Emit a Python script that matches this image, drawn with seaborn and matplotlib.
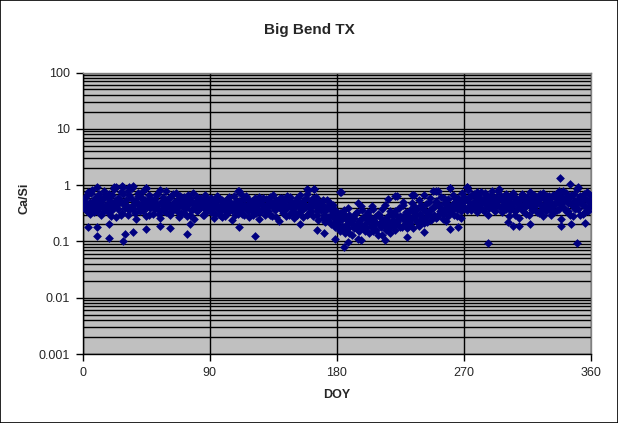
import numpy as np
import pandas as pd
import seaborn as sns
import matplotlib
matplotlib.use("Agg")
import matplotlib.pyplot as plt
from matplotlib.ticker import LogLocator, FixedLocator, FuncFormatter, NullFormatter

# Ca/Si ratio per day of year, two sampling years
doy = list(range(1, 361))
ca_si_a = [
    0.52, 0.38, 0.66, 0.45, 0.31, 0.72, 0.48, 0.41, 0.58, 0.35,
    0.62, 0.44, 0.29, 0.55, 0.78, 0.40, 0.47, 0.33, 0.69, 0.50,
    0.36, 0.85, 0.43, 0.27, 0.60, 0.49, 0.74, 0.32, 0.92, 0.46,
    0.55, 0.30, 0.68, 0.41, 0.88, 0.37, 0.52, 0.25, 0.63, 0.45,
    0.34, 0.58, 0.79, 0.42, 0.28, 0.51, 0.66, 0.39, 0.47, 0.31,
    0.57, 0.43, 0.70, 0.36, 0.26, 0.49, 0.61, 0.40, 0.33, 0.54,
    0.45, 0.29, 0.64, 0.38, 0.50, 0.72, 0.35, 0.27, 0.48, 0.59,
    0.41, 0.32, 0.56, 0.44, 0.68, 0.30, 0.52, 0.38, 0.25, 0.46,
    0.62, 0.36, 0.43, 0.55, 0.29, 0.40, 0.66, 0.34, 0.48, 0.57,
    0.33, 0.45, 0.26, 0.52, 0.39, 0.61, 0.30, 0.42, 0.55, 0.36,
    0.28, 0.47, 0.58, 0.34, 0.41, 0.24, 0.63, 0.38, 0.45, 0.31,
    0.52, 0.36, 0.68, 0.29, 0.43, 0.39, 0.56, 0.27, 0.48, 0.35,
    0.40, 0.60, 0.32, 0.46, 0.25, 0.53, 0.37, 0.44, 0.30, 0.57,
    0.34, 0.49, 0.62, 0.28, 0.41, 0.36, 0.54, 0.45, 0.23, 0.39,
    0.58, 0.32, 0.47, 0.38, 0.65, 0.29, 0.43, 0.51, 0.35, 0.26,
    0.44, 0.60, 0.33, 0.49, 0.37, 0.27, 0.55, 0.41, 0.70, 0.31,
    0.39, 0.52, 0.28, 0.46, 0.62, 0.34, 0.24, 0.43, 0.36, 0.55,
    0.30, 0.22, 0.41, 0.27, 0.48, 0.20, 0.35, 0.26, 0.18, 0.32,
    0.22, 0.15, 0.28, 0.19, 0.36, 0.14, 0.24, 0.17, 0.30, 0.21,
    0.13, 0.26, 0.18, 0.33, 0.16, 0.23, 0.42, 0.19, 0.27, 0.15,
    0.21, 0.29, 0.14, 0.25, 0.18, 0.37, 0.22, 0.16, 0.31, 0.20,
    0.26, 0.13, 0.23, 0.45, 0.19, 0.28, 0.17, 0.34, 0.21, 0.24,
    0.16, 0.30, 0.22, 0.39, 0.18, 0.27, 0.50, 0.20, 0.33, 0.24,
    0.19, 0.36, 0.26, 0.17, 0.42, 0.29, 0.22, 0.55, 0.31, 0.25,
    0.38, 0.21, 0.46, 0.28, 0.34, 0.60, 0.24, 0.40, 0.30, 0.52,
    0.27, 0.44, 0.35, 0.62, 0.31, 0.48, 0.23, 0.39, 0.56, 0.33,
    0.42, 0.68, 0.29, 0.50, 0.37, 0.58, 0.45, 0.26, 0.72, 0.40,
    0.55, 0.36, 0.82, 0.48, 0.63, 0.41, 0.70, 0.52, 0.33, 0.60,
    0.45, 0.74, 0.38, 0.57, 0.49, 0.66, 0.30, 0.53, 0.42, 0.78,
    0.47, 0.35, 0.61, 0.54, 0.85, 0.40, 0.58, 0.44, 0.68, 0.37,
    0.50, 0.28, 0.63, 0.43, 0.72, 0.34, 0.55, 0.47, 0.26, 0.60,
    0.39, 0.66, 0.48, 0.31, 0.57, 0.44, 0.75, 0.36, 0.52, 0.41,
    0.62, 0.33, 0.49, 0.70, 0.42, 0.28, 0.56, 0.45, 0.64, 0.38,
    0.51, 0.30, 0.68, 0.44, 0.58, 0.36, 0.77, 0.47, 0.25, 0.60,
    0.40, 0.73, 0.52, 0.34, 0.62, 0.46, 0.28, 0.69, 0.43, 0.55,
    0.37, 0.64, 0.48, 0.31, 0.58, 0.42, 0.75, 0.35, 0.52, 0.45,
]
ca_si_b = [
    0.44, 0.60, 0.35, 0.75, 0.50, 0.40, 0.82, 0.33, 0.55, 0.47,
    0.37, 0.70, 0.51, 0.42, 0.34, 0.64, 0.39, 0.58, 0.45, 0.28,
    0.66, 0.41, 0.53, 0.94, 0.38, 0.57, 0.30, 0.48, 0.70, 0.40,
    0.45, 0.80, 0.36, 0.59, 0.43, 0.95, 0.32, 0.50, 0.72, 0.39,
    0.62, 0.48, 0.35, 0.55, 0.88, 0.41, 0.30, 0.60, 0.52, 0.44,
    0.38, 0.66, 0.47, 0.31, 0.82, 0.53, 0.42, 0.35, 0.80, 0.45,
    0.58, 0.40, 0.33, 0.70, 0.46, 0.37, 0.55, 0.43, 0.65, 0.32,
    0.50, 0.62, 0.39, 0.28, 0.47, 0.58, 0.36, 0.71, 0.44, 0.53,
    0.34, 0.49, 0.60, 0.41, 0.52, 0.30, 0.45, 0.57, 0.38, 0.42,
    0.58, 0.37, 0.47, 0.31, 0.64, 0.43, 0.35, 0.52, 0.27, 0.46,
    0.40, 0.55, 0.33, 0.62, 0.48, 0.36, 0.44, 0.29, 0.52, 0.78,
    0.38, 0.46, 0.31, 0.57, 0.42, 0.65, 0.34, 0.49, 0.39, 0.53,
    0.29, 0.44, 0.51, 0.37, 0.62, 0.33, 0.47, 0.58, 0.40, 0.35,
    0.55, 0.42, 0.30, 0.48, 0.66, 0.38, 0.27, 0.52, 0.44, 0.60,
    0.36, 0.50, 0.41, 0.28, 0.56, 0.45, 0.62, 0.33, 0.47, 0.39,
    0.52, 0.30, 0.43, 0.66, 0.35, 0.48, 0.40, 0.58, 0.29, 0.82,
    0.46, 0.35, 0.60, 0.86, 0.41, 0.30, 0.53, 0.38, 0.47, 0.26,
    0.42, 0.35, 0.55, 0.24, 0.38, 0.30, 0.45, 0.21, 0.36, 0.27,
    0.18, 0.32, 0.74, 0.25, 0.16, 0.29, 0.20, 0.40, 0.14, 0.26,
    0.23, 0.17, 0.31, 0.20, 0.48, 0.15, 0.25, 0.36, 0.18, 0.28,
    0.17, 0.33, 0.24, 0.19, 0.42, 0.15, 0.27, 0.21, 0.13, 0.30,
    0.18, 0.38, 0.20, 0.25, 0.16, 0.56, 0.22, 0.14, 0.29, 0.19,
    0.35, 0.20, 0.65, 0.25, 0.28, 0.18, 0.44, 0.23, 0.31, 0.17,
    0.27, 0.21, 0.48, 0.33, 0.68, 0.24, 0.38, 0.19, 0.30, 0.45,
    0.25, 0.67, 0.33, 0.22, 0.50, 0.36, 0.28, 0.77, 0.43, 0.26,
    0.48, 0.77, 0.32, 0.40, 0.25, 0.58, 0.36, 0.46, 0.28, 0.90,
    0.34, 0.47, 0.39, 0.60, 0.28, 0.44, 0.53, 0.35, 0.48, 0.62,
    0.40, 0.94, 0.58, 0.45, 0.36, 0.66, 0.50, 0.43, 0.75, 0.38,
    0.62, 0.48, 0.55, 0.34, 0.72, 0.44, 0.60, 0.39, 0.67, 0.50,
    0.36, 0.58, 0.45, 0.80, 0.42, 0.63, 0.33, 0.52, 0.47, 0.70,
    0.41, 0.57, 0.36, 0.66, 0.48, 0.30, 0.60, 0.39, 0.53, 0.45,
    0.70, 0.34, 0.55, 0.43, 0.62, 0.29, 0.49, 0.58, 0.37, 0.68,
    0.46, 0.53, 0.32, 0.60, 0.38, 0.72, 0.43, 0.35, 0.50, 0.65,
    0.40, 0.58, 0.45, 0.33, 0.70, 0.52, 0.38, 0.63, 0.46, 0.80,
    0.55, 0.35, 0.60, 0.48, 0.30, 0.66, 0.42, 0.53, 0.37, 0.85,
    0.50, 0.29, 0.62, 0.44, 0.70, 0.33, 0.55, 0.40, 0.66, 0.47,
]
# scattered low / high samples
extra_doy = [4, 10, 10, 19, 19, 29, 30, 36, 45, 55, 62, 74, 76, 111, 122,
             154, 166, 171, 179, 185, 188, 195, 197, 214, 230, 242, 260, 266,
             287, 301, 305, 309, 317, 339, 346, 350, 356, 338, 345, 351,
             10, 22, 28, 33, 45, 111, 159, 164, 182, 221, 233, 250, 260, 272]
extra_val = [0.18, 0.18, 0.125, 0.113, 0.20, 0.10, 0.137, 0.147, 0.164, 0.188,
             0.17, 0.135, 0.20, 0.178, 0.125, 0.20, 0.16, 0.14, 0.109, 0.079,
             0.099, 0.109, 0.105, 0.106, 0.12, 0.149, 0.164, 0.178, 0.093, 0.22,
             0.19, 0.19, 0.20, 0.19, 0.20, 0.093, 0.21, 1.33, 1.06, 0.93,
             0.93, 0.94, 0.95, 0.93, 0.90, 0.80, 0.84, 0.86, 0.74, 0.65,
             0.68, 0.77, 0.90, 0.94]

df = pd.DataFrame({
    "DOY": doy + doy + extra_doy,
    "Ca/Si": ca_si_a + ca_si_b + extra_val,
})

sns.set_style("white")
plt.rcParams["font.family"] = ["Liberation Sans", "DejaVu Sans"]

fig = plt.figure(figsize=(6.18, 4.23), dpi=100)
ax = fig.add_axes([0.1335, 0.1631, 0.8228, 0.6655])
ax.set_facecolor("#c0c0c0")

sns.scatterplot(data=df, x="DOY", y="Ca/Si", ax=ax, marker="D", s=20,
                color="#000080", linewidth=0, legend=False, zorder=3)

ax.set_yscale("log")
ax.set_ylim(0.001, 100)
ax.set_xlim(0, 360)
ax.xaxis.set_major_locator(FixedLocator([0, 90, 180, 270, 360]))
ax.yaxis.set_major_locator(FixedLocator([0.001, 0.01, 0.1, 1, 10, 100]))
ax.yaxis.set_major_formatter(FuncFormatter(lambda v, p: "%g" % v))
ax.yaxis.set_minor_locator(LogLocator(base=10, subs=np.arange(2, 10)))
ax.yaxis.set_minor_formatter(NullFormatter())

ax.grid(True, which="major", axis="both", color="black", linewidth=1)
ax.grid(True, which="minor", axis="y", color="black", linewidth=1)
ax.set_axisbelow(True)
ax.tick_params(axis="both", which="major", direction="out", length=5, width=1,
               color="black", labelsize=9, pad=4, left=True, bottom=True)
ax.tick_params(axis="y", which="minor", length=0)

for side in ["left", "bottom"]:
    ax.spines[side].set_color("black")
    ax.spines[side].set_linewidth(1)
for side in ["top", "right"]:
    ax.spines[side].set_color("#808080")
    ax.spines[side].set_linewidth(1)

ax.set_xlabel("")
ax.set_ylabel("")
fig.text(0.5, 0.93, "Big Bend TX", ha="center", va="center",
         fontsize=11, fontweight="bold")
fig.text(0.545, 0.066, "DOY", ha="center", va="center",
         fontsize=9, fontweight="bold")
fig.text(0.04, 0.53, "Ca/Si", ha="center", va="center", rotation=90,
         fontsize=9, fontweight="bold")

# outer chart border
fig.patches.append(plt.Rectangle((0.0008, 0.001), 0.9984, 0.998, transform=fig.transFigure,
                                 fill=False, edgecolor="black", linewidth=1.2))

fig.savefig("out.png", dpi=100)
